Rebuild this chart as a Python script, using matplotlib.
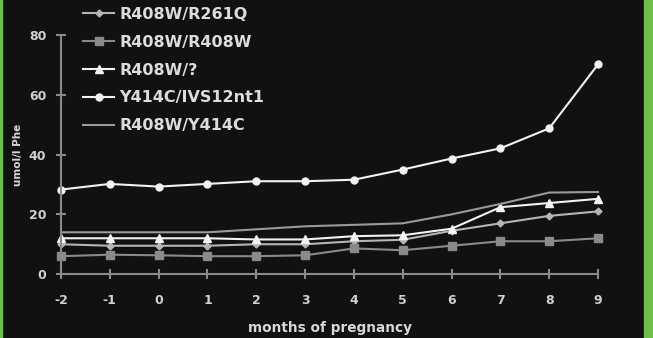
import matplotlib.pyplot as plt
from matplotlib.patches import Rectangle

plt.rcParams['axes.unicode_minus'] = False

months = [-2, -1, 0, 1, 2, 3, 4, 5, 6, 7, 8, 9]

r408w_r261q = [10, 9.5, 9.5, 9.5, 10, 10, 11, 11.5, 14.5, 17, 19.5, 21]
r408w_r408w = [6, 6.5, 6.3, 6, 6, 6.3, 8.6, 8, 9.5, 11, 11, 12]
r408w_unknown = [12, 12, 12, 12, 11.6, 11.6, 12.7, 13, 15.2, 22.4, 23.8, 25.2]
y414c_ivs = [28.3, 30.2, 29.3, 30.2, 31.1, 31.1, 31.6, 35, 38.7, 42.1, 48.8, 70.2]
r408w_y414c = [14, 14, 14, 14, 15, 16, 16.5, 17, 20, 23.5, 27.3, 27.5]

labels = ['R408W/R261Q', 'R408W/R408W', 'R408W/?', 'Y414C/IVS12nt1', 'R408W/Y414C']
yticks = [0, 20, 40, 60, 80]

bg = '#111111'
fig = plt.figure(figsize=(6.53, 3.38), dpi=100, facecolor=bg)
ax = fig.add_axes([0.0934, 0.189, 0.8224, 0.707], facecolor=bg)

h1, = ax.plot(months, r408w_r261q, color='#b5b5b5', lw=1.5, marker='D', ms=3.5, clip_on=False)
h2, = ax.plot(months, r408w_r408w, color='#8a8a8a', lw=1.5, marker='s', ms=6, clip_on=False)
h3, = ax.plot(months, r408w_unknown, color='#f2f2f2', lw=1.5, marker='^', ms=6, clip_on=False)
h4, = ax.plot(months, y414c_ivs, color='#f2f2f2', lw=1.5, marker='o', ms=5, clip_on=False)
h5, = ax.plot(months, r408w_y414c, color='#9a9a9a', lw=1.5, clip_on=False)

ax.set_xlim(-2, 9)
ax.set_ylim(0, 80)
ax.set_xticks(months)
ax.set_yticks(yticks)
for s in ['top', 'right']:
    ax.spines[s].set_visible(False)
for s in ['left', 'bottom']:
    ax.spines[s].set_color('#8a8a8a')
    ax.spines[s].set_linewidth(1.5)
ax.tick_params(colors='#8a8a8a', direction='inout', length=7, width=1.5)
ax.tick_params(axis='x', pad=11)
ax.tick_params(axis='y', pad=7)
for t in ax.get_xticklabels() + ax.get_yticklabels():
    t.set_color('#d0d0d0')
    t.set_fontweight('bold')
    t.set_fontsize(9)

ax.set_xlabel('months of pregnancy', color='#d8d8d8', fontsize=9.8, fontweight='bold')
ax.xaxis.set_label_coords(0.5, -0.195)
ax.set_ylabel('umol/l Phe', color='#d8d8d8', fontsize=7.5, fontweight='bold')
ax.yaxis.set_label_coords(-0.07, 0.5)

leg = fig.legend([h1, h2, h3, h4, h5], labels, loc='upper left', bbox_to_anchor=(0.118, 0.998),
                 frameon=False, fontsize=11.5, handlelength=1.9, handletextpad=0.35,
                 labelspacing=0.8, borderaxespad=0)
for t in leg.get_texts():
    t.set_color('#dcdcdc')
    t.set_fontweight('bold')

# green frame strips at the edges of the picture
fig.patches.append(Rectangle((0, 0), 2 / 653, 1, transform=fig.transFigure, color='#6cc048'))
fig.patches.append(Rectangle((644 / 653, 0), 9 / 653, 1, transform=fig.transFigure, color='#6cc048'))

fig.savefig('out.png', dpi=100, facecolor=bg)
